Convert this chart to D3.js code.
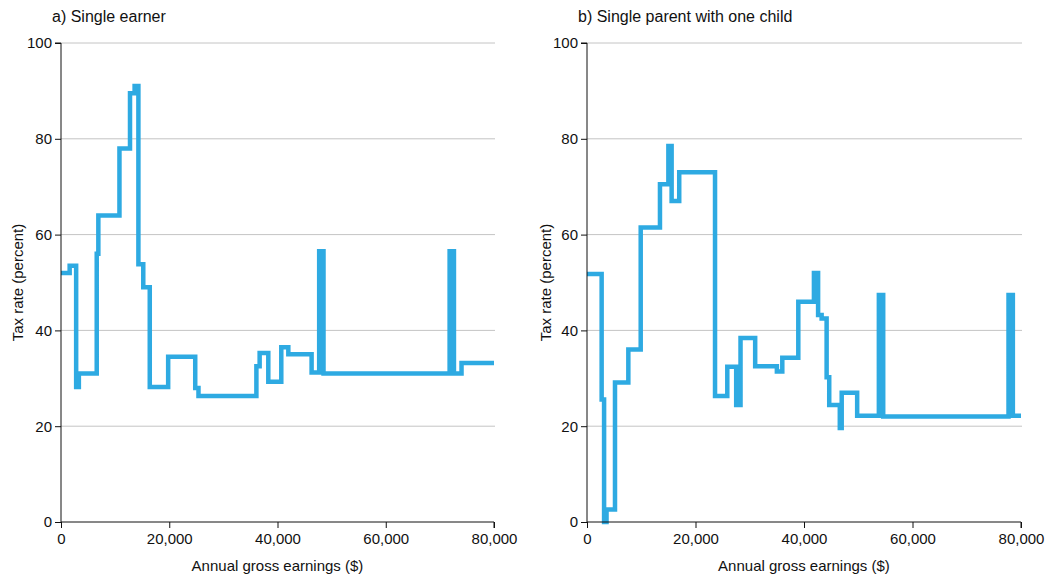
<!DOCTYPE html>
<html>
<head>
<meta charset="utf-8">
<script src="https://cdn.jsdelivr.net/npm/d3@7"></script>
<style>
  html, body { margin: 0; padding: 0; background: #fff; }
  svg { display: block; font-family: "Liberation Sans", Arial, sans-serif; }
</style>
</head>
<body>
<svg id="chart" width="1048" height="577"></svg>
<script>
// ---- Data (step-after breakpoints: rate holds from earnings[i] to earnings[i+1]) ----
const xTicks = [0, 20000, 40000, 60000, 80000];
const yTicks = [0, 20, 40, 60, 80, 100];

const titleA = "a) Single earner";
const titleB = "b) Single parent with one child";
const xLabel = "Annual gross earnings ($)";
const yLabel = "Tax rate (percent)";

const earnerEarnings = [0, 1600, 2800, 3300, 6600, 6900, 10800, 12750, 13600, 14300, 15200, 16400,
  19800, 24800, 25400, 36100, 36700, 38300, 40700, 42000, 46300, 47700, 48500, 71800, 72600, 74000, 80000];
const earnerRate = [52, 53.5, 28.2, 31, 56, 64, 78, 89.5, 91, 53.8, 49, 28.2,
  34.5, 28, 26.3, 32.5, 35.3, 29.3, 36.5, 35, 31.2, 56.5, 31, 56.5, 31, 33.2, 33.2];

const parentEarnings = [0, 2700, 3150, 3600, 5160, 7620, 9900, 13450, 15000, 15600, 17000, 23600,
  25860, 27500, 28300, 31000, 35000, 36000, 38950, 41830, 42600, 43250, 44170, 44650, 46600, 46950,
  49800, 53800, 54600, 77700, 78500, 80000];
const parentRate = [51.8, 25.6, 0, 2.6, 29.1, 36, 61.5, 70.5, 78.5, 67, 73, 26.3,
  32.4, 24.4, 38.4, 32.5, 31.4, 34.3, 46, 52, 43.2, 42.5, 30.2, 24.4, 19.6, 27,
  22.2, 47.4, 22, 47.4, 22.2, 22.2];

// ---- Drawing ----
const svg = d3.select("#chart");
const lineColor = "#2eaae2";
const txt = "#111";

const panels = [
  { title: titleA, xs: earnerEarnings, ys: earnerRate, x0: 61, x1: 494, titleX: 52, yLabelX: 23 },
  { title: titleB, xs: parentEarnings, ys: parentRate, x0: 587, x1: 1021, titleX: 578, yLabelX: 551 }
];

panels.forEach(p => {
  const x = d3.scaleLinear().domain([0, 80000]).range([p.x0, p.x1]);
  const y = d3.scaleLinear().domain([0, 100]).range([522, 43]);
  const g = svg.append("g");

  // gridlines
  g.selectAll("line.grid").data(yTicks.filter(t => t > 0)).enter().append("line")
    .attr("x1", p.x0).attr("x2", p.x1 + 1)
    .attr("y1", d => y(d)).attr("y2", d => y(d))
    .attr("stroke", "#c4c4c4").attr("stroke-width", 1);

  // data line
  const pts = p.xs.map((v, i) => [v, p.ys[i]]);
  const line = d3.line().x(d => x(d[0])).y(d => y(d[1])).curve(d3.curveStepAfter);
  g.append("path").datum(pts)
    .attr("d", line)
    .attr("fill", "none")
    .attr("stroke", lineColor)
    .attr("stroke-width", 4.5)
    .attr("stroke-linejoin", "miter");

  // y axis
  const yAxis = d3.axisLeft(y).tickValues(yTicks).tickSize(6).tickPadding(3).tickFormat(d3.format("d"));
  const ya = g.append("g").attr("transform", `translate(${p.x0},0)`).call(yAxis);
  ya.select(".domain").attr("stroke", txt).attr("d", `M-6,${y(100)}H0V${y(0)}`);
  ya.selectAll(".tick line").attr("stroke", txt);
  ya.selectAll(".tick text").attr("font-size", 15).attr("fill", txt)
    .attr("font-family", "'Liberation Sans', Arial, sans-serif");

  // x axis
  const xAxis = d3.axisBottom(x).tickValues(xTicks).tickSize(6).tickPadding(5).tickFormat(d3.format(","));
  const xa = g.append("g").attr("transform", `translate(0,522)`).call(xAxis);
  xa.select(".domain").attr("stroke", txt).attr("d", `M${p.x0},0H${p.x1}V6`);
  xa.selectAll(".tick line").attr("stroke", txt);
  xa.selectAll(".tick text").attr("font-size", 15).attr("fill", txt)
    .attr("font-family", "'Liberation Sans', Arial, sans-serif");

  // title
  g.append("text").attr("x", p.titleX).attr("y", 22)
    .attr("font-size", 16).attr("fill", txt).text(p.title);

  // x label
  g.append("text").attr("x", (p.x0 + p.x1) / 2).attr("y", 571)
    .attr("text-anchor", "middle").attr("font-size", 15).attr("fill", txt).text(xLabel);

  // y label
  g.append("text")
    .attr("transform", `translate(${p.yLabelX},${(y(0) + y(100)) / 2}) rotate(-90)`)
    .attr("text-anchor", "middle").attr("font-size", 15).attr("fill", txt).text(yLabel);
});
</script>
</body>
</html>
